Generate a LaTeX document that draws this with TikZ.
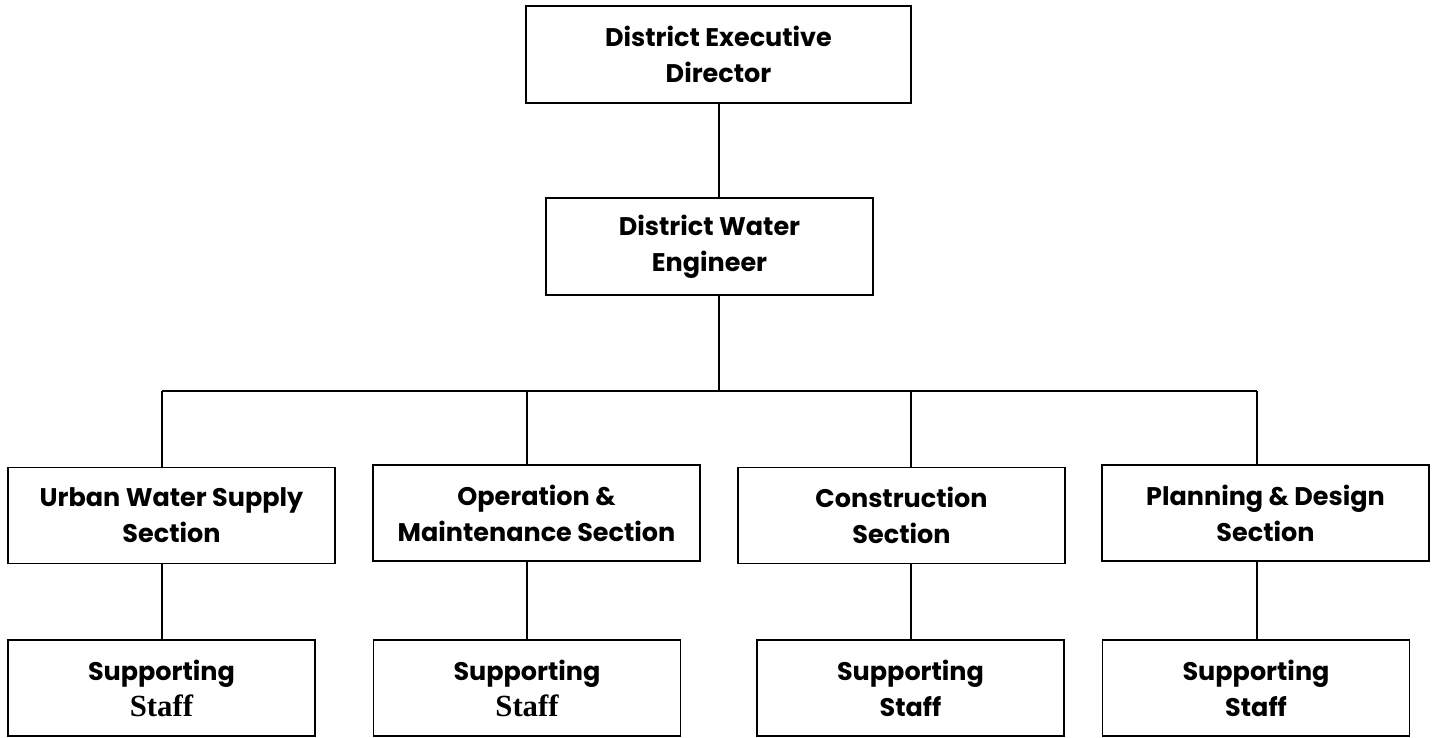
\documentclass[tikz,border=0pt]{standalone}
\usepackage{fontspec}
\setmainfont{Poppins}
\newfontfamily\staffserif{Liberation Serif}

\begin{document}
\begin{tikzpicture}[orgbox/.style={draw,line width=1.1pt,align=center,inner sep=0pt,minimum height=1.92cm,font=\bfseries\fontsize{14.5}{20.5}\selectfont}, link/.style={line width=1.1pt}]
  \useasboundingbox (0,0) rectangle (28.64,14.74);
  \node[orgbox,minimum width=7.70cm,minimum height=1.94cm] (ded) at (14.37,13.65) {District Executive\\Director};
  \node[orgbox,minimum width=6.54cm,minimum height=1.94cm] (dwe) at (14.19,9.81) {District Water\\Engineer};
  \node[orgbox,minimum width=6.54cm] (urban) at (3.43,4.43) {Urban Water Supply\\Section}; \node[orgbox,minimum width=6.54cm] (opmain) at (10.73,4.48) {Operation \&\\Maintenance Section};
  \node[orgbox,minimum width=6.54cm] (constr) at (18.03,4.43) {Construction\\Section}; \node[orgbox,minimum width=6.54cm] (plan) at (25.31,4.48) {Planning \& Design\\Section};
  \node[orgbox,minimum width=6.14cm] (staffA) at (3.23,0.98) {Supporting\\{\staffserif\fontsize{17.5}{20.5}\selectfont Staff}}; \node[orgbox,minimum width=6.14cm] (staffB) at (10.54,0.98) {Supporting\\{\staffserif\fontsize{17.5}{20.5}\selectfont Staff}};
  \node[orgbox,minimum width=6.14cm] (staffC) at (18.21,0.98) {Supporting\\Staff}; \node[orgbox,minimum width=6.14cm] (staffD) at (25.12,0.98) {Supporting\\Staff};
  \coordinate (hub) at (14.38,6.92); \coordinate (jA) at (3.24,6.92); \coordinate (jB) at (10.54,6.92); \coordinate (jC) at (18.22,6.92); \coordinate (jD) at (25.14,6.92);
  \draw[link] (ded.south -| hub) -- (dwe.north -| hub); \draw[link] (dwe.south -| hub) -- (hub); \draw[link] (jA) -- (jD);
  \draw[link] (jA) -- (urban.north -| jA); \draw[link] (urban.south -| jA) -- (staffA.north -| jA);
  \draw[link] (jB) -- (opmain.north -| jB); \draw[link] (opmain.south -| jB) -- (staffB.north -| jB);
  \draw[link] (jC) -- (constr.north -| jC); \draw[link] (constr.south -| jC) -- (staffC.north -| jC);
  \draw[link] (jD) -- (plan.north -| jD); \draw[link] (plan.south -| jD) -- (staffD.north -| jD);
\end{tikzpicture}
\end{document}
